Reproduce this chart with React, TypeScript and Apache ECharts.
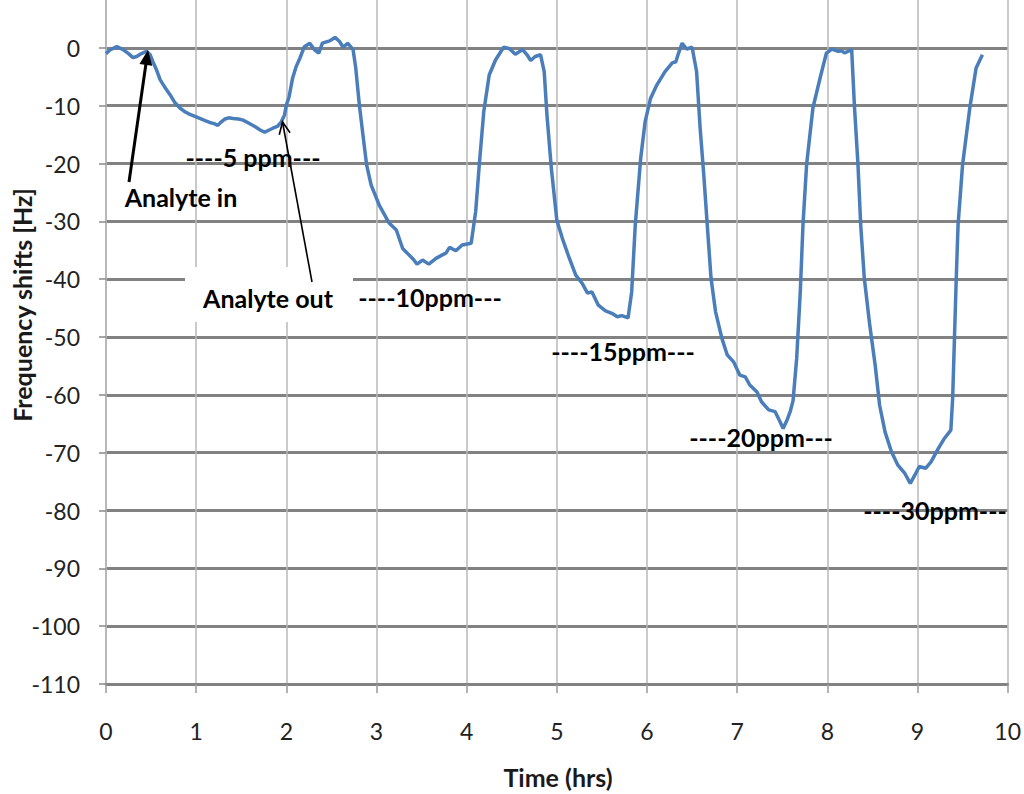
import React, { useEffect, useRef } from "react";
import * as echarts from "echarts";

// Time in hours and frequency shift in Hz of the sensor response
const timeHrs = [
  0.0, 0.05, 0.12, 0.19, 0.25, 0.3, 0.34, 0.38, 0.45, 0.49, 0.52, 0.56, 0.6, 0.66, 0.71, 0.76, 0.82, 0.88,
  0.93, 0.98, 1.04, 1.1, 1.15, 1.2, 1.24, 1.28, 1.32, 1.36, 1.41, 1.47, 1.52, 1.58, 1.65, 1.71, 1.76, 1.81,
  1.85, 1.9, 1.94, 1.98, 2.0, 2.03, 2.07, 2.11, 2.15, 2.2, 2.26, 2.31, 2.36, 2.4, 2.48, 2.54, 2.59, 2.63,
  2.68, 2.74, 2.77, 2.81, 2.85, 2.89, 2.94, 3.03, 3.14, 3.22, 3.29, 3.36, 3.41, 3.45, 3.51, 3.58, 3.66,
  3.73, 3.77, 3.81, 3.88, 3.95, 4.05, 4.1, 4.14, 4.19, 4.25, 4.32, 4.41, 4.47, 4.54, 4.62, 4.67, 4.71,
  4.76, 4.82, 4.86, 4.89, 4.94, 5.0, 5.06, 5.13, 5.21, 5.28, 5.34, 5.39, 5.46, 5.54, 5.61, 5.67, 5.72,
  5.79, 5.83, 5.87, 5.93, 5.98, 6.04, 6.11, 6.2, 6.28, 6.32, 6.35, 6.39, 6.44, 6.5, 6.55, 6.59, 6.63,
  6.67, 6.71, 6.76, 6.83, 6.89, 6.96, 7.03, 7.09, 7.14, 7.22, 7.27, 7.35, 7.42, 7.47, 7.51, 7.55, 7.59,
  7.62, 7.66, 7.7, 7.73, 7.77, 7.84, 7.92, 7.99, 8.05, 8.12, 8.16, 8.19, 8.27, 8.3, 8.34, 8.37, 8.41,
  8.47, 8.53, 8.58, 8.64, 8.71, 8.78, 8.86, 8.92, 8.97, 9.02, 9.09, 9.15, 9.23, 9.3, 9.37, 9.39, 9.41,
  9.43, 9.45, 9.5, 9.58, 9.65, 9.72,
];

const shiftHz = [
  -1.0, -0.3, 0.2, -0.3, -1.0, -1.7, -1.5, -1.1, -0.6, -1.2, -2.4, -3.8, -5.5, -7.0, -8.1, -9.4, -10.4,
  -11.1, -11.5, -11.8, -12.2, -12.6, -12.9, -13.1, -13.4, -12.8, -12.3, -12.1, -12.2, -12.3, -12.5, -13.0,
  -13.6, -14.2, -14.6, -14.2, -13.9, -13.6, -12.9, -11.6, -9.9, -8.5, -5.2, -3.2, -1.8, 0.2, 0.8, -0.3,
  -0.9, 0.8, 1.2, 1.8, 1.1, 0.1, 0.8, -0.3, -3.5, -9.9, -15.1, -20.2, -23.7, -27.2, -30.3, -31.5, -34.7,
  -35.8, -36.6, -37.4, -36.7, -37.4, -36.4, -35.8, -35.5, -34.5, -35.1, -34.1, -33.8, -28.3, -20.2, -11.0,
  -4.7, -2.1, 0.1, -0.1, -1.1, -0.3, -1.2, -2.2, -1.5, -1.2, -4.1, -11.5, -21.0, -29.8, -32.9, -36.0,
  -39.3, -40.7, -42.4, -42.2, -44.5, -45.5, -45.9, -46.5, -46.3, -46.7, -42.2, -30.6, -19.1, -12.7, -8.7,
  -6.4, -4.1, -2.6, -2.4, -0.9, 0.8, -0.2, 0.1, -4.1, -14.0, -22.0, -31.0, -39.8, -45.6, -50.2, -53.1,
  -54.3, -56.6, -56.9, -58.3, -59.5, -61.2, -62.6, -62.9, -64.5, -65.8, -64.5, -62.8, -61.0, -53.7, -42.2,
  -30.6, -20.2, -10.4, -5.2, -0.9, -0.2, -0.6, -0.5, -0.9, -0.3, -9.9, -20.2, -30.6, -39.8, -47.9, -54.8,
  -61.8, -66.4, -69.8, -72.1, -73.6, -75.3, -73.9, -72.4, -72.7, -71.6, -69.3, -67.5, -66.1, -60.6, -50.2,
  -39.8, -30.6, -20.2, -10.4, -3.5, -1.2,
];

// Axis ranges (the +10 row sits just above the visible frame)
const xTicks = { min: 0, max: 10, step: 1 };
const yTicks = { min: -110, max: 10, step: 10 };

// Concentration labels under each exposure step
const concLabels = [
  { text: "----5 ppm---", x: 253, y: 157 },
  { text: "----10ppm---", x: 430, y: 297 },
  { text: "----15ppm---", x: 623, y: 351 },
  { text: "----20ppm---", x: 761, y: 437 },
  { text: "----30ppm---", x: 935, y: 510 },
];

const LABEL_FONT = "Lato, 'Open Sans', sans-serif";
// The chart canvas starts this far above the page so the +10 row is out of view
const TOP_SHIFT = 10;

function arrowHead(fx: number, fy: number, tx: number, ty: number, len: number, half: number) {
  const dx = tx - fx;
  const dy = ty - fy;
  const d = Math.hypot(dx, dy);
  const ux = dx / d;
  const uy = dy / d;
  const bx = tx - ux * len;
  const by = ty - uy * len;
  const px = -uy;
  const py = ux;
  return [
    [bx + px * half, by + py * half],
    [tx, ty],
    [bx - px * half, by - py * half],
  ];
}

export default function App() {
  const ref = useRef<HTMLDivElement>(null);

  useEffect(() => {
    if (!ref.current) return;
    const chart = echarts.init(ref.current, null, { renderer: "svg" });

    const data = timeHrs.map((t, i) => [t, shiftHz[i]]);

    const inFrom: [number, number] = [129, 182];
    const inTo: [number, number] = [148, 50];
    const outFrom: [number, number] = [312, 282];
    const outTo: [number, number] = [282.5, 122];

    const textStyle = (text: string) => ({
      text,
      font: `bold 25px ${LABEL_FONT}`,
      fill: "#000",
      align: "center",
      verticalAlign: "middle",
    });

    const children: any[] = [
      // white backing behind the "Analyte out" note
      {
        type: "rect",
        z: 10,
        shape: { x: 185, y: 267, width: 168, height: 55 },
        style: { fill: "#ffffff" },
      },
      { type: "text", z: 11, x: 268, y: 298, style: textStyle("Analyte out") },
      { type: "text", z: 11, x: 181, y: 197, style: textStyle("Analyte in") },
      // arrow: analyte in
      {
        type: "line",
        z: 12,
        shape: { x1: inFrom[0], y1: inFrom[1], x2: inTo[0] - 1.5, y2: inTo[1] + 10 },
        style: { stroke: "#000", lineWidth: 3 },
      },
      {
        type: "polygon",
        z: 12,
        shape: { points: arrowHead(inFrom[0], inFrom[1], inTo[0], inTo[1], 15, 6.5) },
        style: { fill: "#000" },
      },
      // arrow: analyte out
      {
        type: "line",
        z: 12,
        shape: { x1: outFrom[0], y1: outFrom[1], x2: outTo[0], y2: outTo[1] },
        style: { stroke: "#000", lineWidth: 1.6 },
      },
      {
        type: "polyline",
        z: 12,
        shape: { points: arrowHead(outFrom[0], outFrom[1], outTo[0], outTo[1], 12, 5.5) },
        style: { stroke: "#000", lineWidth: 1.6, fill: null },
      },
      ...concLabels.map((l) => ({ type: "text", z: 11, x: l.x, y: l.y, style: textStyle(l.text) })),
      // axis titles
      {
        type: "text",
        z: 11,
        x: 22,
        y: 305,
        rotation: Math.PI / 2,
        style: { ...textStyle("Frequency shifts [Hz]"), fill: "#1a1a1a" },
      },
      {
        type: "text",
        z: 11,
        x: 558,
        y: 777,
        style: { ...textStyle("Time (hrs)"), fill: "#1a1a1a" },
      },
    ];

    chart.setOption({
      animation: false,
      backgroundColor: "#ffffff",
      grid: { left: 106, right: 14, top: 0, bottom: 110 + 0, containLabel: false },
      xAxis: {
        type: "value",
        min: xTicks.min,
        max: xTicks.max,
        interval: xTicks.step,
        axisLine: { show: true, onZero: false, lineStyle: { color: "#828282", width: 2.8 } },
        axisTick: { show: true, inside: false, length: 9, lineStyle: { color: "#9a9a9a", width: 1.5 } },
        axisLabel: {
          margin: 35,
          fontFamily: LABEL_FONT,
          fontSize: 23,
          color: "#222",
        },
        splitLine: { show: true, lineStyle: { color: "#b8b8b8", width: 1.5 } },
      },
      yAxis: {
        type: "value",
        min: yTicks.min,
        max: yTicks.max,
        interval: yTicks.step,
        axisLine: { show: true, onZero: false, lineStyle: { color: "#b0b0b0", width: 1.5 } },
        axisTick: { show: true, inside: false, length: 7, lineStyle: { color: "#8a8a8a", width: 1.5 } },
        axisLabel: {
          margin: 26,
          fontFamily: LABEL_FONT,
          fontSize: 23,
          color: "#222",
          showMaxLabel: false,
        },
        splitLine: { show: true, lineStyle: { color: "#828282", width: 2.8 } },
      },
      series: [
        {
          type: "line",
          data,
          showSymbol: false,
          symbol: "none",
          clip: false,
          smooth: false,
          lineStyle: { color: "#4a7ebb", width: 3.5 },
          z: 3,
        },
      ],
      graphic: [{ type: "group", x: 0, y: TOP_SHIFT, children }],
    });

    return () => chart.dispose();
  }, []);

  return (
    <div
      ref={ref}
      style={{ position: "absolute", left: 0, top: -TOP_SHIFT, width: 1024, height: 794 + TOP_SHIFT }}
    />
  );
}
